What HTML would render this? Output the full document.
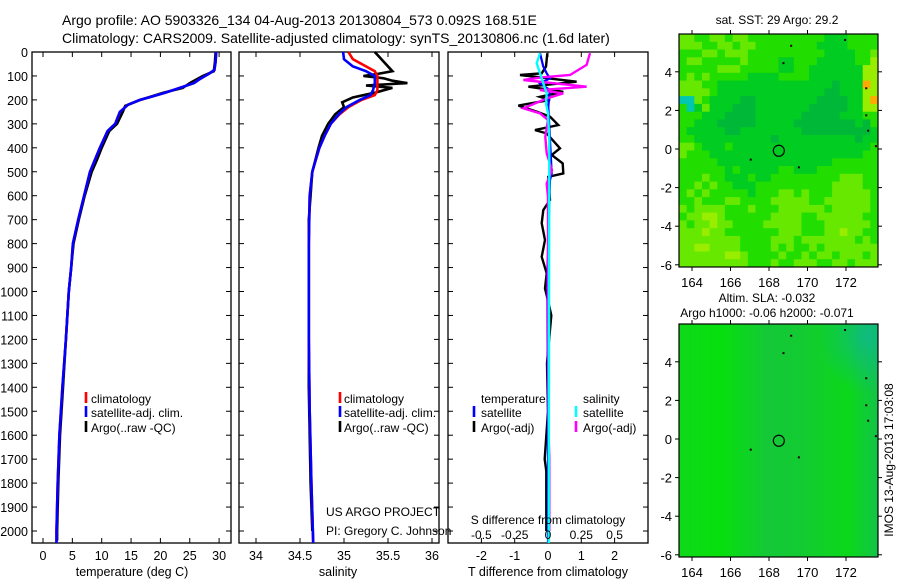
<!DOCTYPE html>
<html><head><meta charset="utf-8">
<style>
html,body{margin:0;padding:0;background:#fff;}
svg{display:block;font-family:"Liberation Sans",sans-serif;}
</style></head>
<body>
<svg id="fig" width="900" height="580" viewBox="0 0 900 580" xmlns="http://www.w3.org/2000/svg">
<rect x="0" y="0" width="900" height="580" fill="#fff"/>
<text x="62" y="25" font-size="14">Argo profile: AO 5903326_134 04-Aug-2013 20130804_573 0.092S 168.51E</text>
<text x="62" y="43" font-size="14">Climatology: CARS2009. Satellite-adjusted climatology: synTS_20130806.nc (1.6d later)</text>
<g id="plots"></g>
</svg>
<script>
// ---------- data ----------
const depthTicks = [0,100,200,300,400,500,600,700,800,900,1000,1100,1200,1300,1400,1500,1600,1700,1800,1900,2000];
const tempTicks = [0,5,10,15,20,25,30];
const salTicks = [34,34.5,35,35.5,36];
const salTickLabels = ["34","34.5","35","35.5","36"];
const tdiffTicks = [-2,-1,0,1,2];
const sdiffTicks = [-0.5,-0.25,0,0.25,0.5];
const sdiffTickLabels = ["-0.5","-0.25","0","0.25","0.5"];

const tClimDepth = [0,40,75,90,100,115,130,150,170,190,200,220,250,300,330,400,500,600,700,800,900,1000,1200,1400,1600,1800,2000,2050];
const tClimVal   = [29.5,29.4,29.2,28.3,27.6,26.6,25.7,23.3,20.8,18.0,16.5,14.5,13.1,12.3,11.0,9.7,8.0,7.0,6.0,5.1,4.8,4.4,3.9,3.3,2.8,2.5,2.3,2.3];
const tArgoDepth = [0,40,80,100,130,150,170,200,215,225,250,300,330,400,450,500,600,700,800,1000,1200,1400,1600,1800,2000,2040];
const tArgoVal   = [29.4,29.3,29.1,27.2,25.0,23.8,20.5,16.6,15.0,14.0,13.6,12.6,11.3,10.0,9.2,8.3,7.1,6.1,5.2,4.4,3.9,3.4,2.9,2.6,2.4,2.4];

const sDepth     = [0,30,60,80,100,130,160,180,200,230,260,300,350,400,450,500,600,800,1000,1200,1500,1800,2050];
const sClimVal   = [35.05,35.1,35.25,35.35,35.38,35.38,35.38,35.35,35.2,35.05,34.95,34.85,34.78,34.72,34.68,34.64,34.61,34.6,34.6,34.6,34.61,34.63,34.65];
const sSatVal    = [34.99,35.0,35.1,35.25,35.35,35.35,35.33,35.3,35.18,35.03,34.94,34.85,34.78,34.72,34.68,34.64,34.61,34.6,34.6,34.6,34.61,34.63,34.65];
const sArgoDepth = [0,40,80,90,100,110,120,130,140,150,170,190,210,230,260,300,350,400,500,700,1000,1400,1800,2000];
const sArgoVal   = [35.35,35.45,35.55,35.4,35.22,35.45,35.55,35.72,35.25,35.55,35.35,35.1,34.98,35.0,34.9,34.82,34.75,34.71,34.64,34.6,34.6,34.6,34.62,34.64];

const tdArgoDepth = [5,61,89,96,124,145,166,187,200,224,249,270,305,326,340,402,430,465,507,521,618,660,715,785,855,924,987,1050,1100,1300,1500,1700,1750,2000];
const tdArgoVal   = [-0.02,-0.06,-0.19,-0.84,0.86,-0.59,0.46,-0.24,0.06,-0.89,-0.34,0.06,0.31,-0.39,-0.04,0.36,0.11,0.44,0.46,0.01,0.06,-0.14,-0.19,-0.09,-0.19,-0.04,-0.09,0.02,0.1,-0.03,0.0,-0.1,-0.05,-0.05];
const tdSatDepth  = [5,61,89,110,131,159,228,367,507,535,924,1500,2050];
const tdSatVal    = [-0.24,-0.14,-0.04,0.06,-0.24,0.06,0.01,0.06,0.11,0.06,-0.02,0.0,0.0];
const sdArgoDepth = [5,54,96,106,117,145,159,173,194,235,256,284,354,423,493,549,605,1000,1600,1700,2000];
const sdArgoVal   = [0.315,0.29,0.165,-0.05,-0.185,0.29,-0.06,0.115,-0.01,-0.185,-0.06,0.0,-0.02,-0.01,0.03,-0.01,0.0,0.0,0.005,0.01,0.01];
const sdSatDepth  = [5,47,89,131,173,215,256,367,2050];
const sdSatVal    = [-0.06,-0.085,-0.06,-0.035,-0.01,-0.015,0.0,0.01,0.005];

// map 1 (SST) grid, rows north->south, levels 0..6
const sstGrid = [
"33223323322222222221112222",
"33322332332222222211112222",
"22233233322222222221111223",
"23322222322221122211111224",
"22222333222221122111111144",
"23232222211112222111111144",
"33322111111111111111011164",
"33332111111111111110011144",
"55321111001111111100001146",
"25131110001111111000001144",
"22211100001111110000011122",
"22111000001111100000000102",
"21111100111111110000000001",
"22111111111101111111111011",
"33211121111111111111111112",
"32221111111111111111111122",
"22222111111111111111222222",
"22222212111112211122222222",
"22232211121122222222233322",
"22323221112222222222333322",
"23232222212223323222333332",
"22322233222233333223333332",
"32333322232223333332333332",
"23344322222233332233333322",
"32334332222333332223333332",
"33343322222223332223343322",
"33333333222233323333333232",
"33443333222232322323333333",
"33333344322223223233233323",
"33333333322232233322332333"];
const sstColors = ["#00b838","#00cc22","#22dd00","#66e800","#99ee00","#00c8b0","#ffaa00"];
const lonTicks = [164,166,168,170,172];
const latTicks = [4,2,0,-2,-4,-6];
const argoLon = 168.51, argoLat = -0.092;

// ---------- helpers ----------
const NS = "http://www.w3.org/2000/svg";
const root = document.getElementById("plots");
function mk(tag, attrs, parent){
  const e = document.createElementNS(NS, tag);
  for (const k in attrs) e.setAttribute(k, attrs[k]);
  (parent||root).appendChild(e);
  return e;
}
const yTop = 52, yBot = 543;
function yD(d){ return 52 + d*0.2395; }
function xT(t){ return 43 + t*5.87; }
function xS(s){ return 344 + (s-35)*88; }
function xTd(d){ return 548 + d*33.3; }
function xSd(s){ return 548 + s*133.2; }

function frame(x0,x1,name){
  const r = mk("rect",{x:x0,y:yTop,width:x1-x0,height:yBot-yTop,fill:"none",stroke:"#000","stroke-width":1.3});
  
  
  depthTicks.forEach(d=>{
    const y=yD(d);
    mk("line",{x1:x0,x2:x0+5,y1:y,y2:y,stroke:"#000","stroke-width":1});
    mk("line",{x1:x1-5,x2:x1,y1:y,y2:y,stroke:"#000","stroke-width":1});
  });
}
function xticks(vals,fx,labels,name){
  vals.forEach((v,i)=>{
    const x=fx(v);
    mk("line",{x1:x,x2:x,y1:yTop,y2:yTop+5,stroke:"#000","stroke-width":1});
    mk("line",{x1:x,x2:x,y1:yBot-5,y2:yBot,stroke:"#000","stroke-width":1});
    const t = mk("text",{x:x,y:560,"font-size":12.5,"text-anchor":"middle"});
    t.textContent = labels ? labels[i] : String(v);
    
    
  });
}
function series(depths, vals, fx, color, name, w){
  const pts = depths.map((d,i)=>fx(vals[i]).toFixed(1)+","+yD(d).toFixed(1)).join(" ");
  const p = mk("polyline",{points:pts,fill:"none",stroke:color,"stroke-width":w||2.6,"stroke-linejoin":"miter"});
  
  
}
function txt(x,y,s,name,size,anchor){
  const t = mk("text",{x:x,y:y,"font-size":size||13,"text-anchor":anchor||"start"});
  t.textContent = s;
  
  
  return t;
}
function legBar(x,y,color,name){
  const l = mk("line",{x1:x,x2:x,y1:y-11,y2:y,stroke:color,"stroke-width":2.6});
  
  
}

// ---------- panel 1: temperature ----------
frame(32,231,"temperature-panel-frame");
depthTicks.forEach(d=>{ txt(28, yD(d)+5, String(d), "depth-tick-label", 12.5, "end"); });
xticks(tempTicks, xT, null, "temperature-tick-label");
series(tArgoDepth,tArgoVal,xT,"#000","temperature-argo-line");
series(tClimDepth,tClimVal,xT,"#ff0000","temperature-climatology-line");
series(tClimDepth,tClimVal,xT,"#0000ff","temperature-satellite-line");
txt(132,576,"temperature (deg C)","temperature-axis-title",12.5,"middle");
legBar(86,403,"#ff0000","legend-climatology-swatch"); txt(91,403,"climatology","legend-climatology",12);
legBar(86,417,"#0000ff","legend-satellite-swatch"); txt(91,417,"satellite-adj. clim.","legend-satellite",12);
legBar(86,432,"#000","legend-argo-swatch"); txt(91,432,"Argo(..raw -QC)","legend-argo",12);

// ---------- panel 2: salinity ----------
frame(239,439,"salinity-panel-frame");
xticks(salTicks, xS, salTickLabels, "salinity-tick-label");
series(sArgoDepth,sArgoVal,xS,"#000","salinity-argo-line");
series(sDepth,sClimVal,xS,"#ff0000","salinity-climatology-line");
series(sDepth,sSatVal,xS,"#0000ff","salinity-satellite-line");
txt(338,576,"salinity","salinity-axis-title",12.5,"middle");
legBar(340,403,"#ff0000","legend2-climatology-swatch"); txt(344,403,"climatology","legend2-climatology",12);
legBar(340,417,"#0000ff","legend2-satellite-swatch"); txt(344,417,"satellite-adj. clim.","legend2-satellite",12);
legBar(340,432,"#000","legend2-argo-swatch"); txt(344,432,"Argo(..raw -QC)","legend2-argo",12);
txt(326,516,"US ARGO PROJECT","project-credit",12);
txt(326,535,"PI: Gregory C. Johnson","pi-credit",12);

// ---------- panel 3: differences ----------
frame(448,648,"difference-panel-frame");
xticks(tdiffTicks, xTd, null, "t-difference-tick-label");
series(tdArgoDepth,tdArgoVal,xTd,"#000","t-diff-argo-line",2.4);
series(tdSatDepth,tdSatVal,xTd,"#0000ff","t-diff-satellite-line",2.2);
series(sdArgoDepth,sdArgoVal,xSd,"#ff00ff","s-diff-argo-line",2.4);
series(sdSatDepth,sdSatVal,xSd,"#00ffff","s-diff-satellite-line",2.4);
txt(548,576,"T difference from climatology","t-difference-axis-title",12.5,"middle");
txt(548,524,"S difference from climatology","s-difference-axis-title",12,"middle");
sdiffTicks.forEach((v,i)=>{ txt(xSd(v),539,sdiffTickLabels[i],"s-difference-tick-label",12,"middle"); });
txt(481,403,"temperature","legend3-temperature-header",12);
txt(583,403,"salinity","legend3-salinity-header",12);
legBar(474,417,"#0000ff","legend3-t-satellite-swatch"); txt(481,417,"satellite","legend3-t-satellite",12);
legBar(474,432,"#000","legend3-t-argo-swatch"); txt(481,432,"Argo(-adj)","legend3-t-argo",12);
legBar(576,417,"#00ffff","legend3-s-satellite-swatch"); txt(583,417,"satellite","legend3-s-satellite",12);
legBar(576,432,"#ff00ff","legend3-s-argo-swatch"); txt(583,432,"Argo(-adj)","legend3-s-argo",12);

// ---------- maps ----------
const mx0=679, mx1=878;
function mxLon(l){ return 692 + (l-164)*19.25; }
function myLat(l, top){ return top + 115 - l*19.3; }
function mapFrame(top, name){
  const bot = top+233;
  const r = mk("rect",{x:mx0,y:top,width:mx1-mx0,height:233,fill:"none",stroke:"#000","stroke-width":1.2});
  
  
  lonTicks.forEach(l=>{
    const x=mxLon(l);
    mk("line",{x1:x,x2:x,y1:top-4,y2:top,stroke:"#000"});
    mk("line",{x1:x,x2:x,y1:bot,y2:bot+4,stroke:"#000"});
    txt(x,bot+20,String(l),"map-lon-tick-label",13,"middle");
  });
  latTicks.forEach(l=>{
    const y=myLat(l,top);
    mk("line",{x1:mx0-4,x2:mx0,y1:y,y2:y,stroke:"#000"});
    mk("line",{x1:mx1,x2:mx1+4,y1:y,y2:y,stroke:"#000"});
    txt(672,y+5,String(l),"map-lat-tick-label",13,"end");
  });
  const c = mk("circle",{cx:mxLon(argoLon),cy:myLat(argoLat,top),r:5.5,fill:"none",stroke:"#000","stroke-width":1.2});
  
  
  [[171.9,5.7],[169.1,5.4],[168.7,4.5],[167.0,-0.5],[169.5,-0.9],[173.0,3.2],[173.0,1.8],[173.1,1.0],[173.5,0.2]].forEach(p=>{
    mk("rect",{x:mxLon(p[0]),y:myLat(p[1],top),width:2,height:2,fill:"#200"});
  });
}
const top1 = 34;
const rows = sstGrid.length, cols = sstGrid[0].length;
const cw = (mx1-mx0)/cols, ch = 233/rows;
sstGrid.forEach((row,ri)=>{
  row.split("").forEach((c,ci)=>{
    const r = mk("rect",{x:(mx0+ci*cw).toFixed(1),y:(top1+ri*ch).toFixed(1),width:(cw+0.5).toFixed(1),height:(ch+0.5).toFixed(1),fill:sstColors[+c]});
    
    
  });
});
mapFrame(top1,"sst-map-frame");
txt(777,24,"sat. SST: 29 Argo: 29.2","sst-map-title",12,"middle");

const top2 = 324;
const defs = mk("defs",{});
const lg = mk("linearGradient",{id:"slaG",x1:"0",y1:"0",x2:"1",y2:"0"},defs);
[["0","#10d81a"],["0.2","#06e00c"],["0.45","#14c838"],["0.65","#12cc30"],["0.85","#0cd81a"],["1","#12c448"]].forEach(s=>mk("stop",{offset:s[0],"stop-color":s[1]},lg));
const rg = mk("radialGradient",{id:"slaR",cx:"0.95",cy:"0.05",r:"0.25"},defs);
mk("stop",{offset:"0","stop-color":"#10b888","stop-opacity":"0.9"},rg);
mk("stop",{offset:"1","stop-color":"#10b888","stop-opacity":"0"},rg);
const sla = mk("rect",{x:mx0,y:top2,width:mx1-mx0,height:233,fill:"url(#slaG)"});


mk("rect",{x:mx0,y:top2,width:mx1-mx0,height:233,fill:"url(#slaR)"});
mapFrame(top2,"sla-map-frame");
txt(767,302,"Altim. SLA: -0.032","sla-map-title",12,"middle");
txt(767,317,"Argo h1000: -0.06 h2000: -0.071","sla-map-subtitle",12,"middle");
const rot = txt(0,0,"IMOS 13-Aug-2013 17:03:08","imos-timestamp",12,"middle");
rot.setAttribute("transform","translate(893,460) rotate(-90)");
</script>
</body></html>
